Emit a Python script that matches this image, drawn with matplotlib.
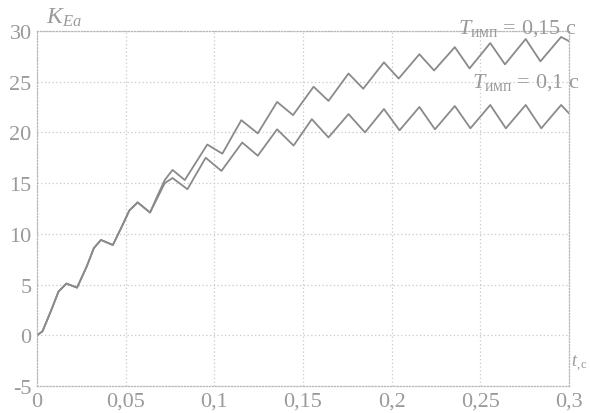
import matplotlib
matplotlib.use("Agg")
import matplotlib.pyplot as plt

plt.rcParams['mathtext.fontset'] = 'custom'
plt.rcParams['mathtext.rm'] = 'Liberation Serif'
plt.rcParams['mathtext.it'] = 'Liberation Serif:italic'
plt.rcParams['font.family'] = ['Liberation Serif', 'DejaVu Serif']

# shared start of both curves
t_common = [0.0, 0.003, 0.008, 0.012, 0.0165, 0.0225, 0.028, 0.032, 0.036,
            0.0427, 0.048, 0.052, 0.0567, 0.0637]
k_common = [0.0, 0.4, 2.5, 4.3, 5.1, 4.7, 6.8, 8.6, 9.4,
            8.9, 10.8, 12.3, 13.1, 12.1]

# T_imp = 0.15 s (upper curve)
t_015 = [0.068, 0.072, 0.0764, 0.0833, 0.096, 0.1045, 0.1152, 0.1245, 0.1354,
         0.1444, 0.156, 0.1644, 0.1757, 0.184, 0.1957, 0.204, 0.2157, 0.224,
         0.2357, 0.244, 0.2557, 0.264, 0.2757, 0.284, 0.2957, 0.3]
k_015 = [13.8, 15.3, 16.3, 15.3, 18.8, 17.9, 21.2, 19.9, 23.0,
         21.7, 24.5, 23.1, 25.8, 24.3, 26.9, 25.3, 27.7, 26.1,
         28.4, 26.3, 28.8, 26.7, 29.2, 27.0, 29.4, 29.0]

# T_imp = 0.1 s (lower curve)
t_010 = [0.068, 0.072, 0.0764, 0.0848, 0.0951, 0.104, 0.1157, 0.1245, 0.1354,
         0.1447, 0.155, 0.1644, 0.1757, 0.185, 0.1957, 0.2045, 0.2157, 0.2245,
         0.2357, 0.2445, 0.2557, 0.2645, 0.2757, 0.2845, 0.2957, 0.3]
k_010 = [13.6, 15.0, 15.5, 14.4, 17.5, 16.2, 19.0, 17.7, 20.3,
         18.7, 21.3, 19.5, 21.8, 20.0, 22.3, 20.2, 22.5, 20.3,
         22.6, 20.4, 22.7, 20.4, 22.7, 20.4, 22.7, 21.9]

x_ticks = [0, 0.05, 0.1, 0.15, 0.2, 0.25, 0.3]
x_labels = ['0', '0,05', '0,1', '0,15', '0,2', '0,25', '0,3']
y_ticks = [-5, 0, 5, 10, 15, 20, 25, 30]
y_labels = ['-5', '0', '5', '10', '15', '20', '25', '30']

fig = plt.figure(figsize=(5.9, 4.14), dpi=100)
ax = fig.add_axes([0.063, 0.065, 0.901, 0.858])

txt_c = '#9a9a9a'
line_c = '#8a8a8a'

ax.plot(t_common + t_015, k_common + k_015, color=line_c, lw=1.3,
        solid_joinstyle='round')
ax.plot(t_common + t_010, k_common + k_010, color=line_c, lw=1.3,
        solid_joinstyle='round')

ax.set_xlim(0, 0.3)
ax.set_ylim(-5, 30)
ax.set_xticks(x_ticks)
ax.set_xticklabels(x_labels)
ax.set_yticks(y_ticks)
ax.set_yticklabels(y_labels)
ax.tick_params(length=0, labelsize=16, colors=txt_c, pad=4)
ax.grid(True, color='#c8c8c8', linestyle=(0, (1, 2)), linewidth=0.9)
for s in ax.spines.values():
    s.set_color('#b8b8b8')
    s.set_linestyle((0, (1, 1.5)))
    s.set_linewidth(0.9)

fig.text(0.078, 0.957, r'$K_{Ea}$', fontsize=17, color=txt_c, ha='left', va='center')
fig.text(0.967, 0.12, r'$t_{,\mathrm{с}}$', fontsize=13, color=txt_c,
         ha='left', va='center')
fig.text(0.978, 0.932, r'$T_{\mathrm{имп}}$ = 0,15 с', fontsize=16, color=txt_c,
         ha='right', va='center')
fig.text(0.983, 0.80, r'$T_{\mathrm{имп}}$ = 0,1 с', fontsize=16, color=txt_c,
         ha='right', va='center')

fig.savefig('out.png', dpi=100)
